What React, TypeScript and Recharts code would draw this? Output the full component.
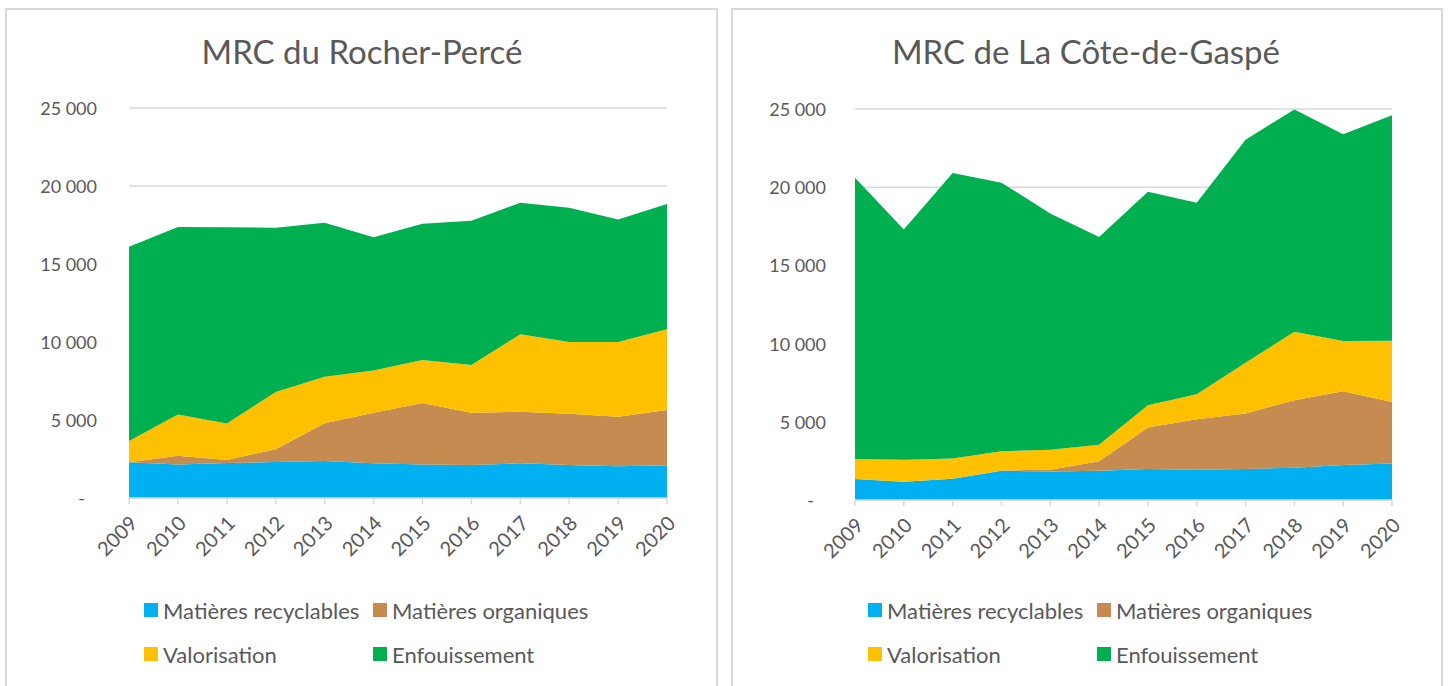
import { AreaChart, Area, XAxis, YAxis, CartesianGrid, Legend } from "recharts"

const FONT = "Lato, 'Noto Sans', sans-serif"
const TEXT = "#595959"
const GRID = "#d9d9d9"

const years = ["2009", "2010", "2011", "2012", "2013", "2014", "2015", "2016", "2017", "2018", "2019", "2020"]
const yTicks = [0, 5000, 10000, 15000, 20000, 25000]

const seriesKeys = ["recyclables", "organiques", "valorisation", "enfouissement"]
const seriesNames = ["Matières recyclables", "Matières organiques", "Valorisation", "Enfouissement"]
const seriesColors = ["#00B0F0", "#C58B50", "#FFC000", "#00B050"]

// MRC du Rocher-Percé (tonnes)
const rocherRecyclables = [2290, 2140, 2240, 2310, 2370, 2220, 2140, 2120, 2220, 2120, 2030, 2100]
const rocherOrganiques = [0, 570, 200, 810, 2420, 3250, 3950, 3350, 3310, 3280, 3180, 3540]
const rocherValorisation = [1360, 2650, 2330, 3670, 2990, 2710, 2760, 3060, 4960, 4600, 4790, 5170]
const rocherEnfouissement = [12460, 12010, 12580, 10540, 9870, 8530, 8730, 9250, 8440, 8610, 7860, 8040]

// MRC de La Côte-de-Gaspé (tonnes)
const gaspeRecyclables = [1340, 1170, 1360, 1870, 1830, 1870, 1980, 1940, 1990, 2060, 2230, 2340]
const gaspeOrganiques = [0, 0, 0, 20, 110, 600, 2650, 3220, 3540, 4320, 4730, 3930]
const gaspeValorisation = [1280, 1410, 1300, 1220, 1280, 1070, 1430, 1600, 3240, 4380, 3200, 3910]
const gaspeEnfouissement = [17990, 14720, 18250, 17180, 15100, 13270, 13650, 12250, 14270, 14210, 13230, 14420]

const buildRows = (rec: number[], org: number[], val: number[], enf: number[]) =>
  years.map((year, i) => ({
    year,
    recyclables: rec[i],
    organiques: org[i],
    valorisation: val[i],
    enfouissement: enf[i],
  }))

const rocherData = buildRows(rocherRecyclables, rocherOrganiques, rocherValorisation, rocherEnfouissement)
const gaspeData = buildRows(gaspeRecyclables, gaspeOrganiques, gaspeValorisation, gaspeEnfouissement)

const fmt = (v: number) => String(v).replace(/\B(?=(\d{3})+(?!\d))/g, " ")

const YTick = ({ x, y, payload }: any) => {
  const v = payload.value
  return (
    <text
      x={v === 0 ? x - 12 : x}
      y={y}
      textAnchor="end"
      dominantBaseline="central"
      fill={TEXT}
      fontSize={18}
      fontFamily={FONT}
    >
      {v === 0 ? "-" : fmt(v)}
    </text>
  )
}

const XTick = ({ x, y, payload }: any) => {
  const ax = x + 4
  const ay = y + 13
  return (
    <text
      x={ax}
      y={ay}
      transform={`rotate(-45 ${ax} ${ay})`}
      textAnchor="end"
      dominantBaseline="central"
      fill={TEXT}
      fontSize={20}
      fontFamily={FONT}
    >
      {payload.value}
    </text>
  )
}

const LegendGrid = () => (
  <div
    style={{
      display: "grid",
      gridTemplateColumns: "229px 250px",
      gridAutoRows: "44px",
      fontFamily: FONT,
      fontSize: 22,
      color: TEXT,
    }}
  >
    {seriesNames.map((name, i) => (
      <div key={name} style={{ display: "flex", alignItems: "center", whiteSpace: "nowrap" }}>
        <span style={{ width: 14, height: 14, background: seriesColors[i], marginRight: 5, display: "inline-block", flex: "none" }} />
        {name}
      </div>
    ))}
  </div>
)

type PanelProps = {
  title: string
  data: any[]
  left: number
  boxLeft: number
  boxWidth: number
  margin: { top: number; right: number; bottom: number; left: number }
  tickMargin: number
  legendLeft: number
}

function Panel({ title, data, left, boxLeft, boxWidth, margin, tickMargin, legendLeft }: PanelProps) {
  return (
    <>
      <div
        style={{
          position: "absolute",
          left: boxLeft,
          top: 8,
          width: boxWidth,
          height: 700,
          border: `2px solid ${GRID}`,
          boxSizing: "border-box",
        }}
      />
      <div
        style={{
          position: "absolute",
          left,
          top: 31,
          width: 724,
          textAlign: "center",
          fontFamily: FONT,
          fontSize: 33,
          lineHeight: "40px",
          color: TEXT,
        }}
      >
        {title}
      </div>
      <div style={{ position: "absolute", left, top: 0 }}>
        <AreaChart width={724} height={686} data={data} margin={margin}>
          <CartesianGrid vertical={false} stroke={GRID} strokeWidth={1.5} />
          <XAxis
            dataKey="year"
            height={60}
            interval={0}
            stroke={GRID}
            strokeWidth={1.5}
            tickSize={6}
            tick={<XTick />}
          />
          <YAxis
            width={60}
            domain={[0, 25000]}
            ticks={yTicks}
            interval={0}
            axisLine={false}
            tickLine={false}
            tickMargin={tickMargin}
            tick={<YTick />}
          />
          <Legend
            layout="horizontal"
            verticalAlign="middle"
            align="center"
            content={<LegendGrid />}
            wrapperStyle={{ left: legendLeft, top: 588, width: 480, height: 90 }}
          />
          {seriesKeys.map((key, i) => (
            <Area
              key={key}
              type="linear"
              dataKey={key}
              name={seriesNames[i]}
              stackId="1"
              stroke="none"
              fill={seriesColors[i]}
              fillOpacity={1}
              dot={false}
              activeDot={false}
              isAnimationActive={false}
            />
          ))}
        </AreaChart>
      </div>
    </>
  )
}

export default function App() {
  return (
    <div style={{ position: "absolute", left: 0, top: 0, width: 1448, height: 686, background: "#fff", overflow: "hidden" }}>
      <Panel
        title="MRC du Rocher-Percé"
        data={rocherData}
        left={0}
        boxLeft={5}
        boxWidth={713}
        margin={{ top: 108, right: 57, bottom: 128, left: 69 }}
        tickMargin={26}
        legendLeft={144}
      />
      <Panel
        title="MRC de La Côte-de-Gaspé"
        data={gaspeData}
        left={724}
        boxLeft={731}
        boxWidth={712}
        margin={{ top: 109, right: 56, bottom: 126, left: 71 }}
        tickMargin={23}
        legendLeft={144}
      />
    </div>
  )
}
